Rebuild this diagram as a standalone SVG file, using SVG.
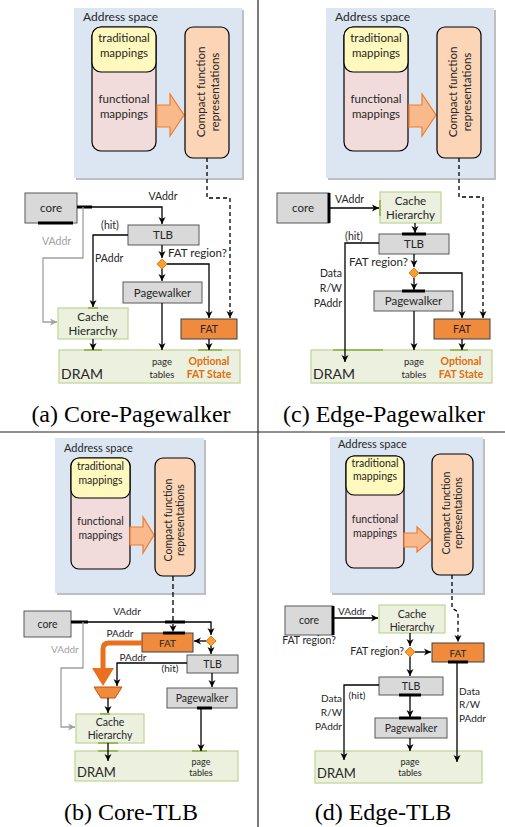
<svg xmlns="http://www.w3.org/2000/svg" width="505" height="827" viewBox="0 0 505 827">
<defs>
<style>
.t{font-family:Lato,"Liberation Sans",sans-serif;fill:#262626;text-anchor:middle}
.s{text-anchor:start}
.e{text-anchor:end}
.cap{font-family:"Liberation Serif",serif;font-size:24px;fill:#000;text-anchor:middle}
.as{fill:#DCE6F2}
.sh{fill:#BFBFBF}
.func{fill:#F2DCDB;stroke:#000;stroke-width:1.2}
.trad{fill:#FFF9BD;stroke:#000;stroke-width:1.2}
.cmp{fill:#FBD5B5;stroke:#000;stroke-width:1.2}
.oa{fill:#F9B98A;stroke:#ED7D31;stroke-width:1.2}
.gray{fill:#D9D9D9;stroke:#595959;stroke-width:1}
.grn{fill:#EBF1DE;stroke:#C3D69B;stroke-width:1.3}
.fat{fill:#F08A3C;stroke:#404040;stroke-width:1}
.dia{fill:#F5A030;stroke:#E07A1A;stroke-width:1}
.c{fill:none;stroke:#000;stroke-width:1.3;marker-end:url(#ah)}
.g{fill:none;stroke:#A0A0A0;stroke-width:1.3;marker-end:url(#ahg)}
.d{stroke-dasharray:4,3}
.p{stroke:#000;stroke-width:3}
.gp{stroke:#9BBB59;stroke-width:2}
.opt{fill:#E46C0A;font-weight:bold}
.gl{fill:#A0A0A0}
.div{stroke:#222;stroke-width:1.2}
</style>
<marker id="ah" markerWidth="8" markerHeight="8" refX="7" refY="4" orient="auto" markerUnits="userSpaceOnUse"><path d="M0,0.5 L7,4 L0,7.5 L2,4z" fill="#000"/></marker>
<marker id="ahg" markerWidth="8" markerHeight="8" refX="7" refY="4" orient="auto" markerUnits="userSpaceOnUse"><path d="M0,0.5 L7,4 L0,7.5 L2,4z" fill="#A0A0A0"/></marker>
</defs>
<rect width="505" height="827" fill="#fff"/>

<!-- dividers -->
<line class="div" x1="258" y1="0" x2="258" y2="827"/>
<line class="div" x1="0" y1="432" x2="505" y2="432"/>

<!-- ============ (a) ============ -->
<g id="a-addr">
<rect class="sh" x="76" y="10" width="168" height="170"/>
<rect class="as" x="74" y="8" width="168" height="170"/>
<text class="t s" x="83" y="21" font-size="12">Address space</text>
</g>
<g id="a-mappings">
<rect class="func" x="92" y="27" width="64" height="124" rx="9"/>
<rect class="trad" x="92" y="27" width="64" height="45" rx="9"/>
<text class="t" x="124" y="42" font-size="11.5">traditional</text>
<text class="t" x="124" y="57" font-size="11.5">mappings</text>
<text class="t" x="124" y="103" font-size="11.5">functional</text>
<text class="t" x="124" y="118" font-size="11.5">mappings</text>
</g>
<polygon id="a-bigarrow" class="oa" points="157,105 170,105 170,94 184,115 170,136 170,127 157,127"/>
<g id="a-compact">
<rect class="cmp" x="185" y="27" width="44" height="131" rx="8"/>
<g transform="translate(207,92) rotate(-90)">
<text class="t" x="0" y="-2" font-size="11.5">Compact function</text>
<text class="t" x="0" y="12" font-size="11.5">representations</text>
</g>
</g>
<g id="a-core"><rect class="gray" x="25" y="193" width="52" height="30"/><line class="p" x1="38" y1="223" x2="73" y2="223"/><text class="t" x="51" y="212" font-size="11.5">core</text></g>
<g id="a-tlb"><rect class="gray" x="128" y="225" width="71" height="20"/><text class="t" x="163" y="239" font-size="11.5">TLB</text></g>
<g id="a-diamond"><polygon class="dia" points="162,259 167,264 162,269 157,264"/></g>
<g id="a-pw"><rect class="gray" x="123" y="282" width="79" height="21"/><text class="t" x="162.5" y="296.5" font-size="11.5">Pagewalker</text></g>
<g id="a-cache"><rect class="grn" x="58" y="308" width="70" height="31"/><line class="gp" x1="88" y1="308" x2="98" y2="308"/><text class="t" x="93" y="320.5" font-size="11.5">Cache</text><text class="t" x="93" y="335" font-size="11.5">Hierarchy</text></g>
<g id="a-fat"><rect class="fat" x="181" y="319" width="56" height="20"/><text class="t" x="209" y="333" font-size="10.5">FAT</text></g>
<g id="a-dram"><rect class="grn" x="59" y="350" width="181" height="33"/>
<line class="gp" x1="84" y1="350" x2="102" y2="350"/><line class="gp" x1="198" y1="350" x2="222" y2="350"/>
<text class="t s" x="61" y="379" font-size="14">DRAM</text>
<text class="t" x="162" y="365" font-size="9.5">page</text><text class="t" x="162" y="378" font-size="9.5">tables</text>
<text class="t opt" x="209" y="365" font-size="10.5">Optional</text><text class="t opt" x="209" y="378" font-size="10.5">FAT State</text></g>
<g id="a-connectors">
<path class="c d" d="M207,158 V198 H230 V318"/>
<line class="p" x1="77" y1="207" x2="92" y2="207"/>
<path class="c" d="M77,207 H162 V224"/>
<path class="g" d="M83,207 V258 H43 V322 H57"/>
<path class="c" d="M128,235 H93 V307"/>
<path class="c" d="M162,245 V258"/>
<path class="c" d="M167,264 H209 V318"/>
<path class="c" d="M162,269 V281"/>
<path class="c" d="M162,303 V350"/>
<path class="c" d="M93,339 V350"/>
<path class="c" d="M209,339 V350"/>
<text class="t" x="163" y="200" font-size="10.5">VAddr</text>
<text class="t" x="110" y="229" font-size="10.5">(hit)</text>
<text class="t s" x="95" y="262" font-size="10.5">PAddr</text>
<text class="t s gl" x="42" y="245" font-size="10.5">VAddr</text>
<text class="t s" x="168" y="257" font-size="11.5">FAT region?</text>
</g>
<text class="cap" x="131" y="422">(a) Core-Pagewalker</text>

<!-- ============ (c) ============ -->
<g id="c-addr">
<rect class="sh" x="328" y="10" width="168" height="170"/>
<rect class="as" x="326" y="8" width="168" height="170"/>
<text class="t s" x="335" y="21" font-size="12">Address space</text>
</g>
<g id="c-mappings">
<rect class="func" x="344" y="27" width="64" height="124" rx="9"/>
<rect class="trad" x="344" y="27" width="64" height="45" rx="9"/>
<text class="t" x="376" y="42" font-size="11.5">traditional</text>
<text class="t" x="376" y="57" font-size="11.5">mappings</text>
<text class="t" x="376" y="103" font-size="11.5">functional</text>
<text class="t" x="376" y="118" font-size="11.5">mappings</text>
</g>
<polygon id="c-bigarrow" class="oa" points="409,105 422,105 422,94 436,115 422,136 422,127 409,127"/>
<g id="c-compact">
<rect class="cmp" x="437" y="27" width="44" height="131" rx="8"/>
<g transform="translate(459,92) rotate(-90)">
<text class="t" x="0" y="-2" font-size="11.5">Compact function</text>
<text class="t" x="0" y="12" font-size="11.5">representations</text>
</g>
</g>
<g id="c-core"><rect class="gray" x="277" y="193" width="52" height="30"/><line class="p" x1="329" y1="193" x2="329" y2="223"/><text class="t" x="303" y="212" font-size="11.5">core</text></g>
<g id="c-cache"><rect class="grn" x="380" y="192" width="61" height="31"/><line class="gp" x1="380" y1="200" x2="380" y2="216"/><text class="t" x="410.5" y="205" font-size="11.5">Cache</text><text class="t" x="410.5" y="219" font-size="11.5">Hierarchy</text></g>
<g id="c-tlb"><rect class="gray" x="379" y="234" width="70" height="20"/><line class="p" x1="402" y1="234" x2="426" y2="234"/><text class="t" x="414" y="248" font-size="11.5">TLB</text></g>
<g id="c-diamond"><polygon class="dia" points="414,268 419,273 414,278 409,273"/></g>
<g id="c-pw"><rect class="gray" x="374" y="291" width="79" height="20"/><line class="p" x1="402" y1="291" x2="425" y2="291"/><text class="t" x="413.5" y="305" font-size="11.5">Pagewalker</text></g>
<g id="c-fat"><rect class="fat" x="434" y="319" width="56" height="20"/><text class="t" x="462" y="333" font-size="10.5">FAT</text></g>
<g id="c-dram"><rect class="grn" x="311" y="350" width="181" height="33"/>
<line class="gp" x1="333" y1="350" x2="383" y2="350"/><line class="gp" x1="450" y1="350" x2="468" y2="350"/>
<text class="t s" x="313" y="379" font-size="14">DRAM</text>
<text class="t" x="414" y="365" font-size="9.5">page</text><text class="t" x="414" y="378" font-size="9.5">tables</text>
<text class="t opt" x="461" y="365" font-size="10.5">Optional</text><text class="t opt" x="461" y="378" font-size="10.5">FAT State</text></g>
<g id="c-connectors">
<path class="c d" d="M459,158 V197 H483 V318"/>
<path class="c" d="M329,208 H379"/>
<path class="c" d="M415,223 V233"/>
<path class="c" d="M379,243 H345 V362"/>
<path class="c" d="M414,254 V267"/>
<path class="c" d="M419,273 H462 V318"/>
<path class="c" d="M414,278 V290"/>
<path class="c" d="M414,311 V350"/>
<path class="c" d="M462,339 V350"/>
<text class="t s" x="335" y="203" font-size="10.5">VAddr</text>
<text class="t" x="354" y="240" font-size="10.5">(hit)</text>
<text class="t e" x="342" y="277" font-size="10.5">Data</text>
<text class="t e" x="342" y="292" font-size="10.5">R/W</text>
<text class="t e" x="342" y="307" font-size="10.5">PAddr</text>
<text class="t s" x="349" y="266" font-size="11.5">FAT region?</text>
</g>
<text class="cap" x="384" y="422">(c) Edge-Pagewalker</text>

<!-- ============ (b) ============ -->
<g id="b-addr">
<rect class="sh" x="57" y="440" width="149" height="155"/>
<rect class="as" x="55" y="438" width="149" height="155"/>
<text class="t s" x="64" y="452" font-size="11">Address space</text>
</g>
<g id="b-mappings">
<rect class="func" x="71" y="458" width="59" height="111" rx="8"/>
<rect class="trad" x="71" y="458" width="59" height="40" rx="8"/>
<text class="t" x="100.5" y="470" font-size="10.5">traditional</text>
<text class="t" x="100.5" y="484" font-size="10.5">mappings</text>
<text class="t" x="100.5" y="525" font-size="10.5">functional</text>
<text class="t" x="100.5" y="539" font-size="10.5">mappings</text>
</g>
<polygon id="b-bigarrow" class="oa" points="130,527 143,527 143,517 154,535 143,553 143,545 130,545"/>
<g id="b-compact">
<rect class="cmp" x="155" y="458" width="40" height="118" rx="8"/>
<g transform="translate(175,520) rotate(-90)">
<text class="t" x="0" y="-3" font-size="10.5">Compact function</text>
<text class="t" x="0" y="9" font-size="10.5">representations</text>
</g>
</g>
<g id="b-core"><rect class="gray" x="24" y="611" width="47" height="26"/><text class="t" x="47.5" y="628" font-size="10.5">core</text></g>
<g id="b-diamond"><polygon class="dia" points="211,636 216,641 211,646 206,641"/></g>
<g id="b-fat"><rect class="fat" x="142" y="633" width="51" height="19"/><line class="p" x1="163" y1="633" x2="185" y2="633"/><text class="t" x="167.5" y="646.5" font-size="10">FAT</text></g>
<g id="b-tlb"><rect class="gray" x="187" y="655" width="51" height="18"/><text class="t" x="212.5" y="668" font-size="10.5">TLB</text></g>
<g id="b-mux"><polygon points="94,687 122,687 115,698 101,698" fill="#F08A3C" stroke="#C05010" stroke-width="1"/></g>
<g id="b-pw"><rect class="gray" x="167" y="688" width="70" height="20"/><line class="p" x1="197" y1="708" x2="212" y2="708"/><text class="t" x="202" y="702" font-size="10.5">Pagewalker</text></g>
<g id="b-cache"><rect class="grn" x="76" y="714" width="68" height="29"/><line class="gp" x1="100" y1="714" x2="110" y2="714"/><line class="gp" x1="98" y1="743" x2="118" y2="743"/><text class="t" x="110" y="726" font-size="10.5">Cache</text><text class="t" x="110" y="739" font-size="10.5">Hierarchy</text></g>
<g id="b-dram"><rect class="grn" x="75" y="751" width="163" height="30"/>
<line class="gp" x1="98" y1="751" x2="118" y2="751"/><line class="gp" x1="192" y1="751" x2="207" y2="751"/>
<text class="t s" x="77" y="777" font-size="13">DRAM</text>
<text class="t" x="201" y="765" font-size="9">page</text><text class="t" x="201" y="776" font-size="9">tables</text></g>
<g id="b-connectors">
<path class="c" d="M173,576 V632" stroke-width="2.5" stroke-dasharray="5,3"/>
<line class="p" x1="71" y1="622" x2="88" y2="622"/>
<line class="p" x1="165" y1="622" x2="185" y2="622"/>
<path class="c" d="M71,622 H211 V635"/>
<path class="c" d="M206,641 H194"/>
<path class="c" d="M211,646 V654"/>
<path d="M142,643 H109 Q103,643 103,649 V670" fill="none" stroke="#E8701E" stroke-width="5"/>
<polygon points="92,668 114,668 103,686" fill="#E8701E"/>
<path class="c" d="M187,663 H117 V686"/>
<path class="c" d="M108,698 V713"/>
<path class="c" d="M212,673 V687"/>
<path class="c" d="M201,708 V751"/>
<path class="g" d="M83,622 V668 H61 V727 H75"/>
<path class="c" d="M108,743 V761"/>
<text class="t" x="127" y="615" font-size="10">VAddr</text>
<text class="t" x="120" y="637" font-size="10">PAddr</text>
<text class="t" x="133" y="661" font-size="10">PAddr</text>
<text class="t" x="170" y="672" font-size="10">(hit)</text>
<text class="t s gl" x="51" y="653" font-size="10">VAddr</text>
</g>
<text class="cap" x="131" y="820">(b) Core-TLB</text>

<!-- ============ (d) ============ -->
<g id="d-addr">
<rect class="sh" x="332" y="439" width="153" height="156"/>
<rect class="as" x="330" y="437" width="153" height="156"/>
<text class="t s" x="338" y="448" font-size="11">Address space</text>
</g>
<g id="d-mappings">
<rect class="func" x="346" y="456" width="58" height="112" rx="8"/>
<rect class="trad" x="346" y="456" width="58" height="39" rx="8"/>
<text class="t" x="375" y="467" font-size="10.5">traditional</text>
<text class="t" x="375" y="480" font-size="10.5">mappings</text>
<text class="t" x="375" y="523" font-size="10.5">functional</text>
<text class="t" x="375" y="537" font-size="10.5">mappings</text>
</g>
<polygon id="d-bigarrow" class="oa" points="404,533 417,533 417,527 431,540 417,552 417,547 404,547"/>
<g id="d-compact">
<rect class="cmp" x="432" y="454" width="41" height="121" rx="8"/>
<g transform="translate(452.5,513) rotate(-90)">
<text class="t" x="0" y="-3" font-size="10.5">Compact function</text>
<text class="t" x="0" y="9" font-size="10.5">representations</text>
</g>
</g>
<g id="d-core"><rect class="gray" x="285" y="606" width="48" height="29"/><line class="p" x1="333" y1="606" x2="333" y2="635"/><text class="t" x="309" y="624" font-size="10.5">core</text></g>
<g id="d-cache"><rect class="grn" x="379" y="605" width="66" height="28"/><text class="t" x="412" y="618" font-size="10.5">Cache</text><text class="t" x="412" y="631" font-size="10.5">Hierarchy</text></g>
<g id="d-diamond"><polygon class="dia" points="410,647 415,652 410,657 405,652"/></g>
<g id="d-fat"><rect class="fat" x="432" y="643" width="52" height="19"/><line class="p" x1="448" y1="662" x2="468" y2="662"/><text class="t" x="458" y="656.5" font-size="10">FAT</text></g>
<g id="d-tlb"><rect class="gray" x="379" y="677" width="64" height="18"/><line class="p" x1="399" y1="695" x2="421" y2="695"/><text class="t" x="411" y="690" font-size="10.5">TLB</text></g>
<g id="d-pw"><rect class="gray" x="375" y="718" width="72" height="20"/><line class="p" x1="399" y1="718" x2="421" y2="718"/><text class="t" x="411" y="732" font-size="10.5">Pagewalker</text></g>
<g id="d-dram"><rect class="grn" x="315" y="751" width="167" height="32"/>
<text class="t s" x="317" y="778" font-size="13">DRAM</text>
<text class="t" x="410" y="765" font-size="9">page</text><text class="t" x="410" y="776" font-size="9">tables</text></g>
<g id="d-connectors">
<path class="c d" d="M452,575 V608 L458,612 V642"/>
<path class="c" d="M333,618 H378"/>
<path class="c" d="M410,633 V646"/>
<path class="c" d="M415,652 H431"/>
<path class="c" d="M410,657 V676"/>
<path class="c" d="M457,662 V762"/>
<path class="c" d="M379,685 H344 V760"/>
<path class="c" d="M410,695 V717"/>
<path class="c" d="M410,738 V751"/>
<text class="t" x="309" y="644" font-size="10.5">FAT region?</text>
<text class="t s" x="338" y="615" font-size="10">VAddr</text>
<text class="t e" x="404" y="655" font-size="10.5">FAT region?</text>
<text class="t s" x="459" y="695" font-size="10">Data</text>
<text class="t s" x="459" y="708" font-size="10">R/W</text>
<text class="t s" x="459" y="722" font-size="10">PAddr</text>
<text class="t" x="357" y="699" font-size="10">(hit)</text>
<text class="t e" x="342" y="702" font-size="10">Data</text>
<text class="t e" x="342" y="716" font-size="10">R/W</text>
<text class="t e" x="342" y="730" font-size="10">PAddr</text>
</g>
<text class="cap" x="383" y="820">(d) Edge-TLB</text>
</svg>
